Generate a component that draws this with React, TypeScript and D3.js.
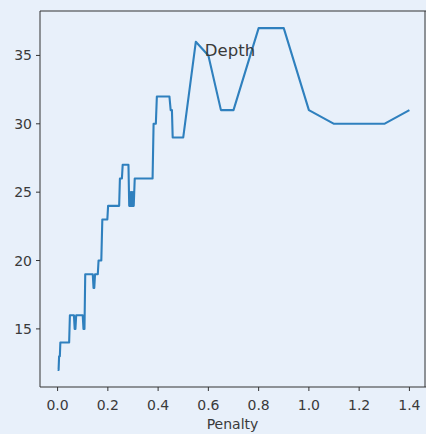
import React from "react";
import * as d3 from "d3";

const penalty: number[] = [
  0.0, 0.004, 0.006, 0.009, 0.011, 0.046, 0.049, 0.065, 0.068, 0.071, 0.074,
  0.1, 0.103, 0.107, 0.11, 0.14, 0.143, 0.146, 0.149, 0.16, 0.163, 0.174,
  0.178, 0.198, 0.201, 0.245, 0.248, 0.256, 0.259, 0.282, 0.285, 0.288,
  0.291, 0.294, 0.297, 0.3, 0.303, 0.307, 0.378, 0.382, 0.391, 0.395, 0.445,
  0.45, 0.455, 0.458, 0.5, 0.55, 0.6, 0.65, 0.7, 0.8, 0.9, 1.0, 1.1, 1.2,
  1.3, 1.4,
];
const depth: number[] = [
  12, 12, 13, 13, 14, 14, 16, 16, 15, 15, 16, 16, 15, 15, 19, 19, 18, 18, 19,
  19, 20, 20, 23, 23, 24, 24, 26, 26, 27, 27, 24, 25, 24, 25, 24, 25, 24, 26,
  26, 30, 30, 32, 32, 31, 31, 29, 29, 36, 35, 31, 31, 37, 37, 31, 30, 30, 30,
  31,
];
const xTicks: number[] = [0.0, 0.2, 0.4, 0.6, 0.8, 1.0, 1.2, 1.4];
const yTicks: number[] = [15, 20, 25, 30, 35];
const titleText = "Depth";
const xLabel = "Penalty";

const W = 426;
const H = 434;
const left = 40;
const right = 427;
const top = 11;
const bottom = 387;
const BG = "#e8f0fa";
const TEXT = "#3a3a3a";
const FONT = "DejaVu Sans, sans-serif";

export default function App() {
  const x = d3.scaleLinear().domain([-0.07, 1.47]).range([left, right]);
  const y = d3.scaleLinear().domain([10.75, 38.25]).range([bottom, top]);
  const pts = penalty.map((p, i) => [p, depth[i]] as [number, number]);
  const line = d3
    .line<[number, number]>()
    .x((d) => x(d[0]))
    .y((d) => y(d[1]));

  return (
    <svg
      width={W}
      height={H}
      style={{ position: "absolute", left: 0, top: 0, display: "block" }}
      fontFamily={FONT}
    >
      <rect x={0} y={0} width={W} height={H} fill={BG} />
      <path
        d={line(pts) || ""}
        fill="none"
        stroke="#2f80be"
        strokeWidth={2.1}
        strokeLinejoin="round"
        strokeLinecap="butt"
      />
      {/* spines */}
      <line x1={left} x2={left} y1={top} y2={bottom} stroke="#333" strokeWidth={1} />
      <line x1={left} x2={right} y1={bottom} y2={bottom} stroke="#333" strokeWidth={1} />
      <line x1={left} x2={right} y1={top} y2={top} stroke="#333" strokeWidth={1} />
      <line x1={right - 2} x2={right - 2} y1={top} y2={bottom} stroke="#333" strokeWidth={1} />
      {xTicks.map((t) => (
        <g key={"x" + t}>
          <line x1={x(t)} x2={x(t)} y1={bottom} y2={bottom + 4} stroke="#333" strokeWidth={1} />
          <text
            x={x(t)}
            y={bottom + 23}
            textAnchor="middle"
            fontSize={14}
            fill={TEXT}
          >
            {t.toFixed(1)}
          </text>
        </g>
      ))}
      {yTicks.map((t) => (
        <g key={"y" + t}>
          <line x1={left - 4} x2={left} y1={y(t)} y2={y(t)} stroke="#333" strokeWidth={1} />
          <text
            x={left - 8}
            y={y(t)}
            dy="0.36em"
            textAnchor="end"
            fontSize={14}
            fill={TEXT}
          >
            {t}
          </text>
        </g>
      ))}
      <text x={230} y={56} textAnchor="middle" fontSize={16.5} fill={TEXT}>
        {titleText}
      </text>
      <text x={(left + right) / 2 - 1} y={429} textAnchor="middle" fontSize={14} fill={TEXT}>
        {xLabel}
      </text>
    </svg>
  );
}
